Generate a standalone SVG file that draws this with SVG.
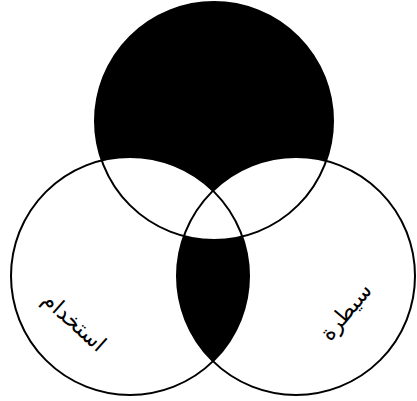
<svg xmlns="http://www.w3.org/2000/svg" width="417" height="401" viewBox="0 0 417 401">
<style>
.ring{fill:none;stroke:#000;stroke-width:2}
.lbl{font-family:"DejaVu Sans",sans-serif;font-size:22px;fill:#000;text-anchor:middle}
</style>
<defs>
<circle id="cT" cx="214" cy="121" r="119"/>
<circle id="cL" cx="130" cy="276" r="119"/>
<circle id="cR" cx="296" cy="276" r="119"/>
<clipPath id="clipL"><use href="#cL"/></clipPath>
</defs>
<rect width="417" height="401" fill="#fff"/>
<g id="fills">
<use href="#cT" fill="#000"/>
<use href="#cL" fill="#fff"/>
<use href="#cR" fill="#fff"/>
<use href="#cR" fill="#000" clip-path="url(#clipL)"/>
<use href="#cT" fill="#fff" clip-path="url(#clipL)"/>
</g>
<g id="top"><use href="#cT" class="ring"/></g>
<g id="left"><use href="#cL" class="ring"/>
<text class="lbl" transform="translate(74,322) rotate(42)" dy="7">استخدام</text></g>
<g id="right"><use href="#cR" class="ring"/>
<text class="lbl" transform="translate(346,312) rotate(-50)" dy="7">سيطرة</text></g>
</svg>
